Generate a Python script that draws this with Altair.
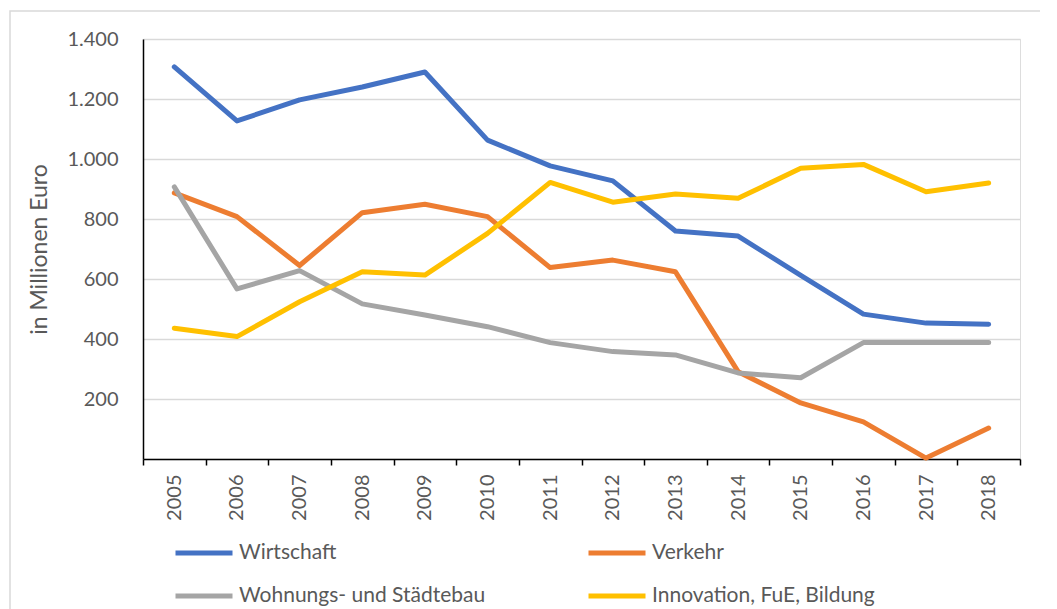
import altair as alt
import pandas as pd

years = ["2005", "2006", "2007", "2008", "2009", "2010", "2011",
         "2012", "2013", "2014", "2015", "2016", "2017", "2018"]
series_names = ["Wirtschaft", "Verkehr", "Wohnungs- und Städtebau", "Innovation, FuE, Bildung"]
series_colors = ["#4472C4", "#ED7D31", "#A5A5A5", "#FFC000"]

wirtschaft = [1307, 1127, 1197, 1240, 1290, 1063, 977, 927, 760, 743, 612, 483, 453, 449]
verkehr = [887, 808, 645, 821, 849, 808, 638, 663, 624, 291, 187, 124, 3, 103]
wohnungsbau = [907, 567, 628, 517, 480, 441, 388, 358, 347, 287, 271, 388, 388, 388]
innovation = [436, 408, 524, 624, 613, 752, 922, 856, 883, 869, 969, 982, 891, 920]

y_ticks = [0, 200, 400, 600, 800, 1000, 1200, 1400]

rows = []
for name, vals in zip(series_names, [wirtschaft, verkehr, wohnungsbau, innovation]):
    for yr, v in zip(years, vals):
        rows.append({"Jahr": yr, "Wert": v, "Bereich": name})
df = pd.DataFrame(rows)

FONT = "Lato"
TXT = "#595959"

lines = alt.Chart(df).mark_line(strokeWidth=5, strokeCap="round", strokeJoin="round").encode(
    x=alt.X("Jahr:O",
            sort=years,
            bandPosition=0.5,
            scale=alt.Scale(type="band", paddingInner=0, paddingOuter=0),
            axis=alt.Axis(title=None, labelAngle=270, labelFontSize=20, labelColor=TXT,
                          labelFont=FONT, labelPadding=9, tickBand="extent",
                          ticks=True, tickSize=6, tickColor="#000000", tickWidth=1.5,
                          domainColor="#000000", domainWidth=1.5, grid=False)),
    y=alt.Y("Wert:Q",
            scale=alt.Scale(domain=[0, 1400], nice=False),
            axis=alt.Axis(title="in Millionen Euro", values=y_ticks,
                          labelExpr="datum.value == 0 ? '' : replace(format(datum.value, ','), ',', '.')",
                          labelFontSize=20, labelColor=TXT, labelFont=FONT,
                          labelPadding=25, ticks=False, tickSize=0,
                          titleFontSize=23, titleColor=TXT, titleFont=FONT,
                          titleFontWeight="normal", titlePadding=15,
                          domainColor="#000000", domainWidth=1.5,
                          grid=True, gridColor="#d9d9d9", gridWidth=1.5)),
    color=alt.Color("Bereich:N",
                    sort=series_names,
                    scale=alt.Scale(domain=series_names, range=series_colors),
                    legend=alt.Legend(title=None, orient="none", legendX=30, legendY=502,
                                      direction="horizontal",
                                      columns=2, columnPadding=100, rowPadding=19,
                                      clipHeight=24, gridAlign="all", labelLimit=500,
                                      symbolType="stroke", symbolSize=3249,
                                      symbolStrokeWidth=5, labelOffset=4,
                                      labelFontSize=21, labelColor=TXT, labelFont=FONT,
                                      padding=0)),
)

border = alt.Chart(alt.Data(values=[{"k": 1}])).mark_rect(
    filled=False, stroke="#d9d9d9", strokeWidth=1.5
).encode(
    x=alt.value(-133), x2=alt.value(960), y=alt.value(-28), y2=alt.value(620)
)

chart = alt.layer(border, lines).properties(
    width=877, height=420,
    autosize=alt.AutoSizeParams(type="none"),
    padding={"left": 135, "top": 31, "right": 20, "bottom": 150},
).configure_view(stroke=None).configure(font=FONT)

chart.save("out.html", embed_options={"renderer": "svg", "actions": False})
